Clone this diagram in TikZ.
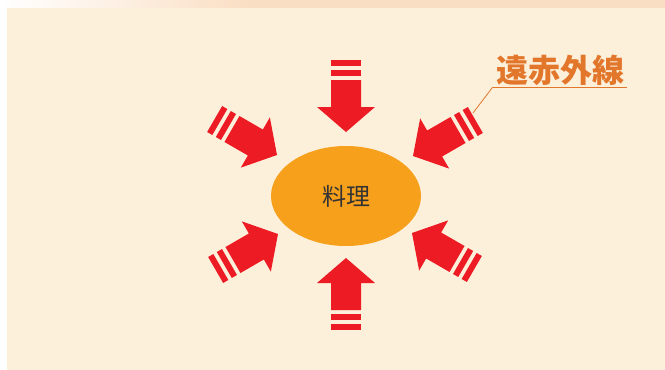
\documentclass[tikz,border=0pt]{standalone}
\usepackage{fontspec}
\usepackage{tikz}
\usetikzlibrary{shapes.geometric}
\newfontfamily\jpfont{Noto Sans CJK JP}
\definecolor{raycol}{HTML}{ED1C24}
\definecolor{dishcol}{HTML}{F7A01C}
\definecolor{panelcol}{HTML}{FDF0DB}
\definecolor{stripcol}{HTML}{FADEC3}
\definecolor{labelcol}{HTML}{E2762B}
\tikzset{
  heatray/.pic={
    \fill[raycol] (0pt,0pt) -- (-25pt,29pt) -- (-25pt,15pt) -- (-52pt,15pt)
      -- (-52pt,-15pt) -- (-25pt,-15pt) -- (-25pt,-29pt) -- cycle;
    \fill[raycol] (-56pt,-15pt) rectangle (-62pt,15pt);
    \fill[raycol] (-66pt,-15pt) rectangle (-72pt,15pt);
  }
}

\begin{document}
\begin{tikzpicture}[x=1pt,y=-1pt]
              \useasboundingbox (0,0) rectangle (665,370);
              \fill[white] (0,0) rectangle (665,370);
              \shade[left color=white,right color=stripcol] (0,0) rectangle (250,8);
              \fill[stripcol] (250,0) rectangle (665,8);
              \fill[panelcol] (7,8) rectangle (665,370);
              \pic[rotate=-90] at (346,132) {heatray};
              \pic[rotate=90] at (346,258) {heatray};
              \pic[rotate=-30] at (277,155) {heatray};
              \pic[rotate=-150] at (413,156) {heatray};
              \pic[rotate=30] at (278,234) {heatray};
              \pic[rotate=150] at (412,233) {heatray};
              \node[ellipse,fill=dishcol,inner sep=0pt,minimum width=150pt,minimum height=100pt,
                font=\jpfont\fontsize{24}{24}\selectfont,text=black!80](dish)at(346,196){料理};
              \node[anchor=south,inner xsep=3pt,inner ysep=1pt,text=labelcol,
                font=\jpfont\bfseries\fontsize{32}{32}\selectfont](farir)at(560,87){遠赤外線};
              \coordinate (irtail) at (473,113);
              \draw[labelcol,line width=1pt] (farir.south west)--(farir.south east);
              \draw[labelcol,line width=0.8pt] (farir.south west)--(irtail);
            \end{tikzpicture}
\end{document}
